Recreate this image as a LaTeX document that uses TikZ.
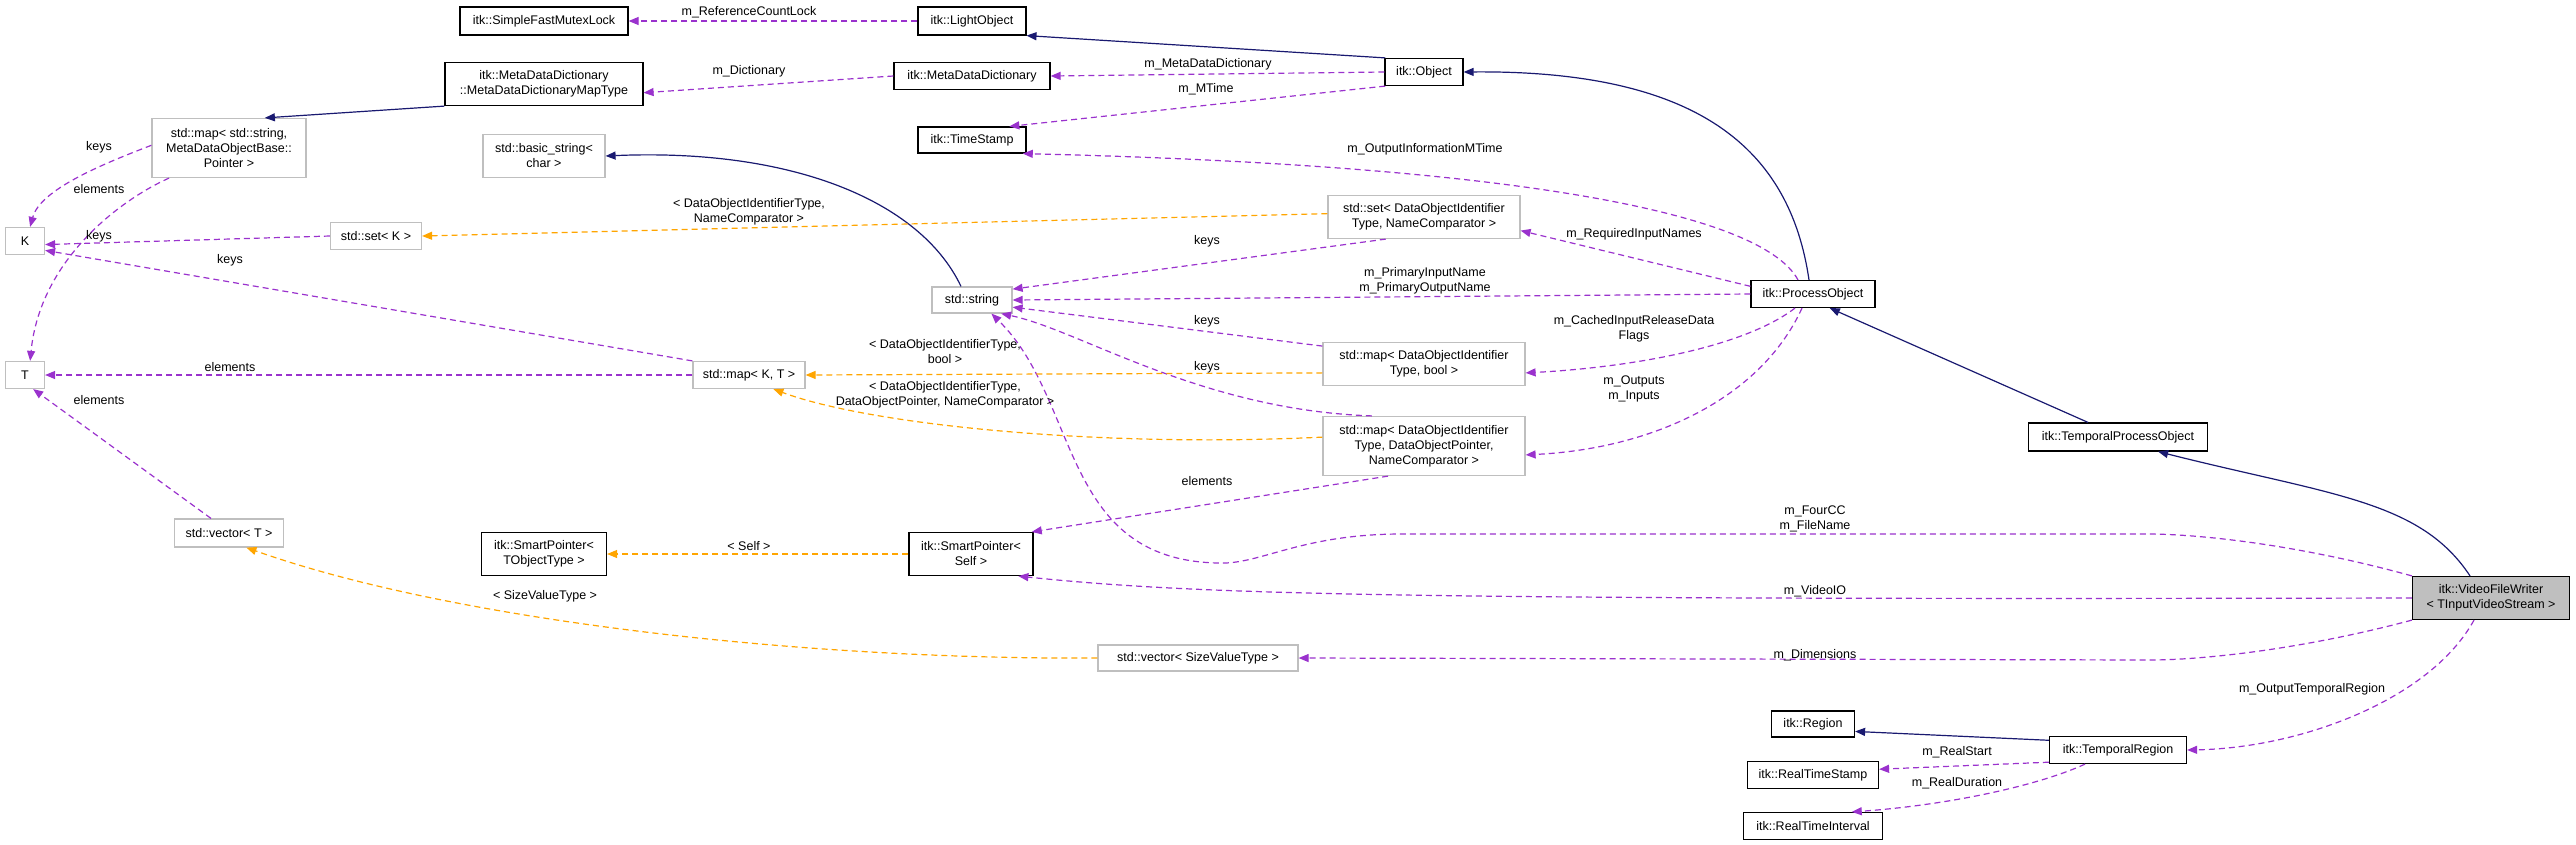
\documentclass[tikz,border=0pt]{standalone}
\usepackage{fontspec}
\setmainfont{Liberation Sans}
\usetikzlibrary{arrows.meta}
\definecolor{inhc}{HTML}{191970}
\definecolor{usec}{HTML}{9A32CD}
\definecolor{tplc}{HTML}{FFA500}
\definecolor{grayb}{HTML}{BFBFBF}
\begin{document}
\begin{tikzpicture}[x=1pt,y=-1pt,
  font=\fontsize{12.5}{15}\selectfont,
  box/.style={draw=black,line width=1.2pt,fill=white,inner sep=0pt,align=center},
  gbox/.style={draw=grayb,line width=1.2pt,fill=white,inner sep=0pt,align=center},
  tip/.style={-{Triangle[length=10pt,width=8pt]}},
  inh/.style={tip,draw=inhc,line width=1.2pt},
  use/.style={tip,draw=usec,line width=1.2pt,dash pattern=on 6pt off 4pt},
  tpl/.style={tip,draw=tplc,line width=1.2pt,dash pattern=on 6pt off 4pt},
  lbl/.style={inner sep=0pt,align=center}]
\useasboundingbox (0,0) rectangle (2576,844);
% nodes
\node[box,minimum width=168,minimum height=28] (sfml) at (544,21) {itk::SimpleFastMutexLock};
\node[box,minimum width=108,minimum height=28] (lo) at (972,21) {itk::LightObject};
\node[box,minimum width=198,minimum height=43] (mt) at (544,84) {itk::MetaDataDictionary\\::MetaDataDictionaryMapType};
\node[box,minimum width=156,minimum height=27] (mdd) at (972,76) {itk::MetaDataDictionary};
\node[box,minimum width=78,minimum height=27] (obj) at (1424,72) {itk::Object};
\node[box,minimum width=108,minimum height=26] (ts) at (972,140) {itk::TimeStamp};
\node[gbox,minimum width=154,minimum height=59] (msd) at (229,148) {std::map\textless{} std::string,\\MetaDataObjectBase::\\Pointer \textgreater{}};
\node[gbox,minimum width=122,minimum height=43] (bs) at (544,156) {std::basic\_string\textless{}\\char \textgreater{}};
\node[gbox,minimum width=39,minimum height=27] (K) at (25,241) {K};
\node[gbox,minimum width=91,minimum height=27] (setk) at (376,236) {std::set\textless{} K \textgreater{}};
\node[gbox,minimum width=80,minimum height=26] (str) at (972,300) {std::string};
\node[gbox,minimum width=39,minimum height=27] (T) at (25,375) {T};
\node[gbox,minimum width=112,minimum height=27] (mkt) at (749,375) {std::map\textless{} K, T \textgreater{}};
\node[gbox,minimum width=109,minimum height=28] (vt) at (229,533) {std::vector\textless{} T \textgreater{}};
\node[box,minimum width=125,minimum height=43] (spt) at (544,554) {itk::SmartPointer\textless{}\\TObjectType \textgreater{}};
\node[box,minimum width=124,minimum height=43] (sps) at (971,554) {itk::SmartPointer\textless{}\\Self \textgreater{}};
\node[gbox,minimum width=192,minimum height=43] (setd) at (1424,217) {std::set\textless{} DataObjectIdentifier\\Type, NameComparator \textgreater{}};
\node[box,minimum width=124,minimum height=27] (po) at (1813,294) {itk::ProcessObject};
\node[gbox,minimum width=202,minimum height=43] (mapb) at (1424,364) {std::map\textless{} DataObjectIdentifier\\Type, bool \textgreater{}};
\node[gbox,minimum width=202,minimum height=59] (map3) at (1424,446) {std::map\textless{} DataObjectIdentifier\\Type, DataObjectPointer,\\NameComparator \textgreater{}};
\node[box,minimum width=179,minimum height=28] (tpo) at (2118,437) {itk::TemporalProcessObject};
\node[box,fill=grayb,minimum width=157,minimum height=43] (vfw) at (2491,598) {itk::VideoFileWriter\\\textless{} TInputVideoStream \textgreater{}};
\node[gbox,minimum width=200,minimum height=26] (vsv) at (1198,658) {std::vector\textless{} SizeValueType \textgreater{}};
\node[box,minimum width=83,minimum height=26] (reg) at (1813,724) {itk::Region};
\node[box,minimum width=137,minimum height=27] (tr) at (2118,750) {itk::TemporalRegion};
\node[box,minimum width=131,minimum height=27] (rts) at (1813,775) {itk::RealTimeStamp};
\node[box,minimum width=139,minimum height=27] (rti) at (1813,826) {itk::RealTimeInterval};
% inheritance
\draw[inh] (obj.160) -- (lo.-15);
\draw[inh] (mt.south west) -- (msd.40);
\draw[inh] ([xshift=-11pt]str.north) .. controls (920,200) and (790,148) .. (bs.east);
\draw[inh] ([xshift=-4pt]po.north) .. controls (1790,150) and (1700,70) .. (obj.east);
\draw[inh] ([xshift=-30pt]tpo.north) -- (po.-40);
\draw[inh] ([xshift=-21pt]vfw.north) .. controls (2420,500) and (2330,495) .. (tpo.-20);
\draw[inh] (tr.172) -- (reg.-10);
% usage
\draw[use] (lo.west) -- (sfml.east);
\draw[use] (mdd.west) -- (mt.-5);
\draw[use] (obj.west) -- (mdd.east);
\draw[use] (obj.-160) -- (ts.20);
\draw[use] ([xshift=-15pt]po.north) .. controls (1760,210) and (1500,165) .. (ts.-15);
\draw[use] (msd.178) .. controls (100,165) and (40,190) .. (K.70);
\draw[use] ([xshift=-60pt]msd.south) .. controls (120,200) and (40,260) .. (T.70);
\draw[use] (setk.west) -- (K.-10);
\draw[use] (mkt.north west) -- (K.-25);
\draw[use] (mkt.west) -- (T.east);
\draw[use] ([xshift=-18pt]vt.north) -- (T.-60);
\draw[use] (setd.-150) -- (str.15);
\draw[use] (po.west) -- (str.east);
\draw[use] (mapb.170) -- (str.-10);
\draw[use] (map3.150) .. controls (1200,410) and (1080,330) .. (str.-25);
\draw[use] (vfw.north west) .. controls (2300,545) and (2200,534) .. (2147,534) -- (1402,534) .. controls (1300,534) and (1260,565) .. (1218,563) .. controls (1060,560) and (1080,400) .. (str.-35);
\draw[use] (po.173) -- (setd.-8);
\draw[use] ([xshift=-18pt]po.south) .. controls (1740,350) and (1620,368) .. (mapb.-5);
\draw[use] ([xshift=-11pt]po.south) .. controls (1760,400) and (1650,449) .. (map3.-5);
\draw[use] (map3.-140) -- (sps.20);
\draw[use] (vfw.west) .. controls (1400,600) and (1200,595) .. (sps.-25);
\draw[use] (vfw.south west) .. controls (2300,650) and (2200,660) .. (2150,660) -- (vsv.east);
\draw[use] ([xshift=-17pt]vfw.south) .. controls (2430,700) and (2300,748) .. (tr.east);
\draw[use] (tr.-170) -- (rts.5);
\draw[use] ([xshift=-33pt]tr.south) .. controls (2040,785) and (1950,805) .. (rti.20);
% templates
\draw[tpl] (setd.178) -- (setk.east);
\draw[tpl] (mapb.-175) -- (mkt.east);
\draw[tpl] (map3.175) .. controls (1100,448) and (870,425) .. (mkt.-30);
\draw[tpl] (sps.west) -- (spt.east);
\draw[tpl] (vsv.west) .. controls (800,660) and (450,620) .. (vt.-40);
% labels
\node[lbl] (l1) at (749,12) {m\_ReferenceCountLock};
\node[lbl] (l2) at (749,71) {m\_Dictionary};
\node[lbl] (l3) at (1208,64) {m\_MetaDataDictionary};
\node[lbl] (l4) at (1206,89) {m\_MTime};
\node[lbl] (l5) at (1425,149) {m\_OutputInformationMTime};
\node[lbl] (l6) at (99,147) {keys};
\node[lbl] (l7) at (99,189) {elements};
\node[lbl] (l8) at (99,236) {keys};
\node[lbl] (l9) at (230,260) {keys};
\node[lbl] (l10) at (230,367) {elements};
\node[lbl] (l11) at (99,400) {elements};
\node[lbl] (l12) at (749,212) {\textless{} DataObjectIdentifierType,\\NameComparator \textgreater{}};
\node[lbl] (l13) at (945,352) {\textless{} DataObjectIdentifierType,\\bool \textgreater{}};
\node[lbl] (l14) at (945,395) {\textless{} DataObjectIdentifierType,\\DataObjectPointer, NameComparator \textgreater{}};
\node[lbl] (l15) at (1207,241) {keys};
\node[lbl] (l16) at (1425,281) {m\_PrimaryInputName\\m\_PrimaryOutputName};
\node[lbl] (l17) at (1207,321) {keys};
\node[lbl] (l18) at (1207,367) {keys};
\node[lbl] (l19) at (1207,481) {elements};
\node[lbl] (l20) at (1634,234) {m\_RequiredInputNames};
\node[lbl] (l21) at (1634,329) {m\_CachedInputReleaseData\\Flags};
\node[lbl] (l22) at (1634,389) {m\_Outputs\\m\_Inputs};
\node[lbl] (l23) at (1815,519) {m\_FourCC\\m\_FileName};
\node[lbl] (l24) at (1815,591) {m\_VideoIO};
\node[lbl] (l25) at (1815,655) {m\_Dimensions};
\node[lbl] (l26) at (2312,689) {m\_OutputTemporalRegion};
\node[lbl] (l27) at (1957,752) {m\_RealStart};
\node[lbl] (l28) at (1957,783) {m\_RealDuration};
\node[lbl] (l29) at (749,546) {\textless{} Self \textgreater{}};
\node[lbl] (l30) at (545,596) {\textless{} SizeValueType \textgreater{}};
\end{tikzpicture}
\end{document}
